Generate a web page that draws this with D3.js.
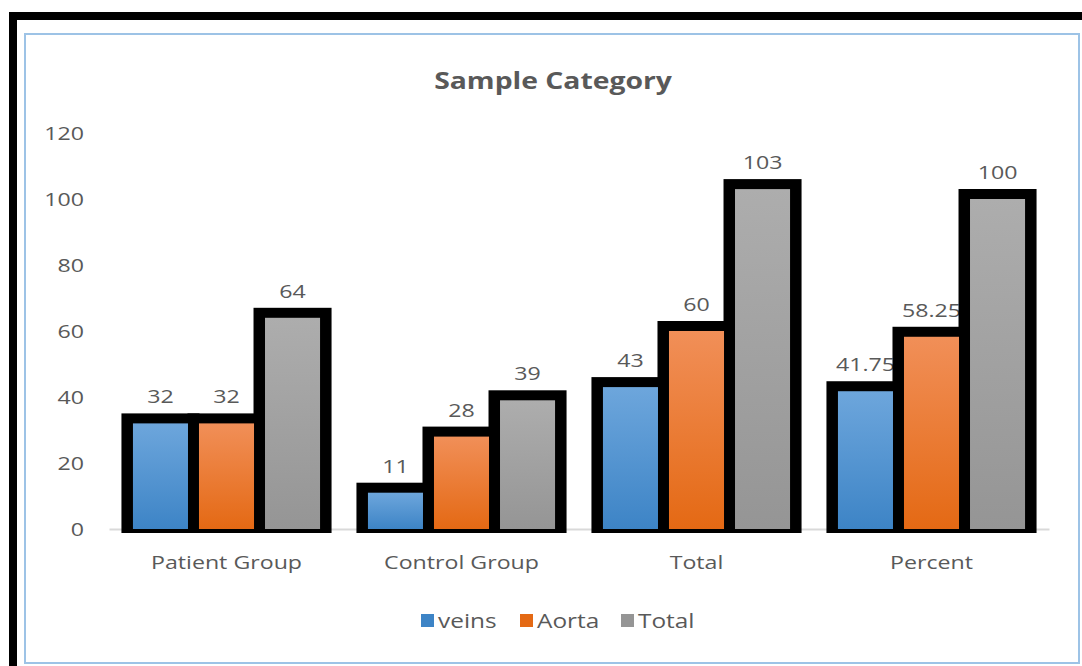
<!DOCTYPE html>
<html>
<head>
<meta charset="utf-8">
<script src="https://cdn.jsdelivr.net/npm/d3@7"></script>
<style>
    html, body { margin: 0; padding: 0; background: #ffffff; }
    svg { display: block; }
</style>
</head>
<body>
<div id="chart"></div>
<script>

var categories = [ 'Patient Group', 'Control Group', 'Total', 'Percent' ];
var series_names = [ 'veins', 'Aorta', 'Total' ];
var veins_values = [ 32, 11, 43, 41.75 ];
var aorta_values = [ 32, 28, 60, 58.25 ];
var total_values = [ 64, 39, 103, 100 ];
var y_ticks = [ 0, 20, 40, 60, 80, 100, 120 ];

var _width = 1082;
var _height = 666;
var _text_color = '#595959';
var _font = '"Open Sans", sans-serif';

// the source picture is stretched sideways, so text gets a horizontal scale
var _stretch = 1.22;

var _colors = {
    veins: [ '#6da6dc', '#3d84c6' ],
    Aorta: [ '#f18f58', '#e46914' ],
    Total: [ '#adadad', '#959595' ]
};

var _series = [
    { name: 'veins', values: veins_values },
    { name: 'Aorta', values: aorta_values },
    { name: 'Total', values: total_values }
];

var _svg = d3.select( '#chart' ).append( 'svg' )
    .attr( 'width', _width )
    .attr( 'height', _height );

// Gradients for the bar fills
var _defs = _svg.append( 'defs' );
series_names.forEach( function ( name, i ) {

    var grad = _defs.append( 'linearGradient' )
        .attr( 'id', 'grad-' + i )
        .attr( 'x1', 0 ).attr( 'y1', 0 )
        .attr( 'x2', 0 ).attr( 'y2', 1 );
    grad.append( 'stop' ).attr( 'offset', '0%' ).attr( 'stop-color', _colors[ name ][ 0 ] );
    grad.append( 'stop' ).attr( 'offset', '100%' ).attr( 'stop-color', _colors[ name ][ 1 ] );

});

// Frames
_svg.append( 'rect' )
    .attr( 'x', 13 )
    .attr( 'y', 16 )
    .attr( 'width', 1100 )
    .attr( 'height', 700 )
    .attr( 'fill', 'none' )
    .attr( 'stroke', '#000000' )
    .attr( 'stroke-width', 8 );

_svg.append( 'rect' )
    .attr( 'x', 25 )
    .attr( 'y', 34 )
    .attr( 'width', 1054 )
    .attr( 'height', 629 )
    .attr( 'fill', '#ffffff' )
    .attr( 'stroke', '#9dc3e6' )
    .attr( 'stroke-width', 2 );

// Places a text at (x, y) with a sideways stretch around that point
function stretched_text ( parent, x, y, sx ) {

    return parent.append( 'g' )
        .attr( 'transform', 'translate(' + x + ',' + y + ') scale(' + sx + ',1)' )
        .append( 'text' );

}

// Title
stretched_text( _svg, 553, 89, 1.18 )
    .attr( 'text-anchor', 'middle' )
    .attr( 'font-family', _font )
    .attr( 'font-weight', 'bold' )
    .attr( 'font-size', '24px' )
    .attr( 'fill', _text_color )
    .text( 'Sample Category' );

// Scales
var _x = d3.scaleBand()
    .domain( categories )
    .range( [ 109, 1049 ] )
    .paddingInner( 0.157 )
    .paddingOuter( 0.0785 );

var _x_inner = d3.scaleBand()
    .domain( series_names )
    .range( [ 0, _x.bandwidth() ] );

var _y = d3.scaleLinear()
    .domain( [ 0, 120 ] )
    .range( [ 529, 133 ] );

// Y axis labels
var _y_axis = d3.axisLeft( _y )
    .tickValues( y_ticks )
    .tickSize( 0 )
    .tickPadding( 0 );

var _y_group = _svg.append( 'g' )
    .attr( 'transform', 'translate(84,0)' )
    .call( _y_axis );

_y_group.select( '.domain' ).remove();
_y_group.selectAll( 'text' )
    .attr( 'font-family', _font )
    .attr( 'font-size', '19px' )
    .attr( 'fill', _text_color )
    .attr( 'transform', 'scale(' + _stretch + ',1)' );

// Category axis line + labels
var _x_axis = d3.axisBottom( _x )
    .tickSize( 0 )
    .tickPadding( 27 );

var _x_group = _svg.append( 'g' )
    .attr( 'transform', 'translate(0,' + _y( 0 ) + ')' )
    .call( _x_axis );

_x_group.select( '.domain' )
    .attr( 'stroke', '#d9d9d9' )
    .attr( 'stroke-width', 2 );
_x_group.selectAll( 'text' )
    .attr( 'font-family', _font )
    .attr( 'font-size', '19px' )
    .attr( 'fill', _text_color )
    .attr( 'transform', 'scale(' + _stretch + ',1)' );

// Bars
var _bars = _svg.append( 'g' );
var _border = 6;
var _inset = 5.5;

var _items = [];
_series.forEach( function ( s, si ) {
    s.values.forEach( function ( v, ci ) {
        _items.push({ series: s.name, index: si, category: categories[ ci ], value: v });
    });
});

function bar_center ( d ) {
    return _x( d.category ) + _x_inner( d.series ) + _x_inner.bandwidth() / 2;
}

// Data labels (drawn below the borders, as in the picture)
_items.forEach( function ( d ) {

    stretched_text( _bars, bar_center( d ), _y( d.value ) - 20, _stretch )
        .attr( 'text-anchor', 'middle' )
        .attr( 'font-family', _font )
        .attr( 'font-size', '19px' )
        .attr( 'fill', _text_color )
        .text( d.value );

});

_bars.selectAll( 'rect.border' )
    .data( _items )
    .enter().append( 'rect' )
    .attr( 'class', 'border' )
    .attr( 'x', function ( d ) { return _x( d.category ) + _x_inner( d.series ) - _border; } )
    .attr( 'y', function ( d ) { return _y( d.value ) - 10; } )
    .attr( 'width', _x_inner.bandwidth() + 2 * _border )
    .attr( 'height', function ( d ) { return _y( 0 ) - _y( d.value ) + 14; } )
    .attr( 'fill', '#000000' );

_bars.selectAll( 'rect.fill' )
    .data( _items )
    .enter().append( 'rect' )
    .attr( 'class', 'fill' )
    .attr( 'x', function ( d ) { return _x( d.category ) + _x_inner( d.series ) + _inset; } )
    .attr( 'y', function ( d ) { return _y( d.value ); } )
    .attr( 'width', _x_inner.bandwidth() - 2 * _inset )
    .attr( 'height', function ( d ) { return _y( 0 ) - _y( d.value ); } )
    .attr( 'fill', function ( d ) { return 'url(#grad-' + d.index + ')'; } );

// Legend
var _legend_x = [ 421, 520, 621 ];
var _legend = _svg.append( 'g' );

series_names.forEach( function ( name, i ) {

    _legend.append( 'rect' )
        .attr( 'x', _legend_x[ i ] )
        .attr( 'y', 614 )
        .attr( 'width', 13 )
        .attr( 'height', 13 )
        .attr( 'fill', _colors[ name ][ 1 ] );

    stretched_text( _legend, _legend_x[ i ] + 17, 628, 1.22 )
        .attr( 'font-family', _font )
        .attr( 'font-size', '20px' )
        .attr( 'fill', _text_color )
        .text( name );

});

</script>
</body>
</html>
